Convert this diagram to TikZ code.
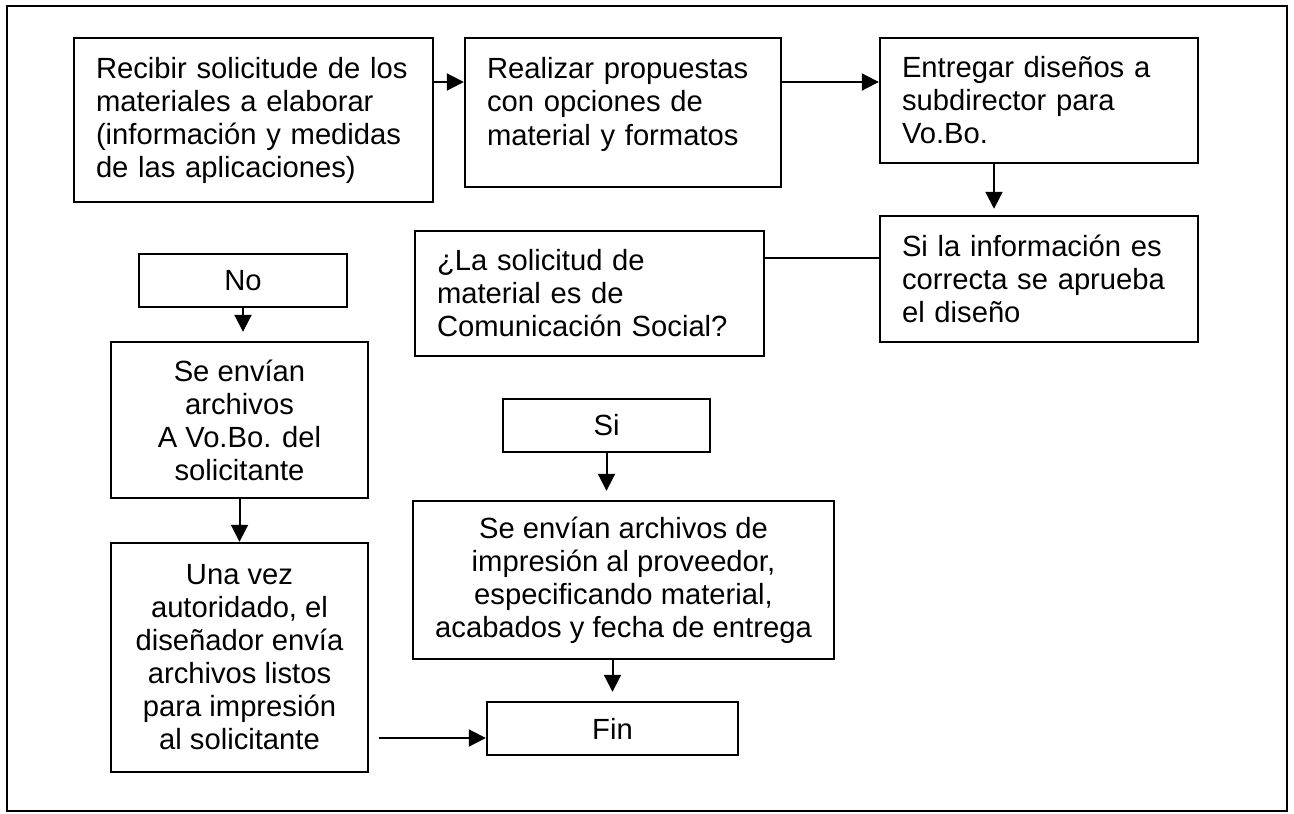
\documentclass[tikz,border=0pt]{standalone}
\usepackage{fontspec}
\setmainfont{Liberation Sans}
\usepackage{tikz}
\usetikzlibrary{arrows.meta}

\tikzset{
    caja/.style={draw, line width=1.2pt, align=left, inner xsep=11pt,
        font=\fontsize{14.6}{16.5}\selectfont},
    centrada/.style={caja, align=center, inner xsep=4pt},
    flecha/.style={line width=1pt, -{Triangle[length=8.5pt, width=8.5pt]}},
    linea/.style={line width=1pt},
}

\begin{document}
\begin{tikzpicture}[x=0.5pt, y=-0.5pt]
    \useasboundingbox (0,0) rectangle (1294,813);
    % marco
    \draw[line width=1pt] (7,6) rectangle (1287,811);

    % fila superior
    \node[caja, text width=157.5pt, minimum width=179.5pt, minimum height=82pt] (recibir) at (253.5,120)
        {Recibir solicitude de los\\materiales a elaborar\\(información y medidas\\de las aplicaciones)};
    \node[caja, text width=136pt, minimum width=158pt, inner ysep=0pt, text height=20.5pt, text depth=54pt] (propuestas) at (623,112.5)
        {Realizar propuestas\\con opciones de\\material y formatos};
    \node[caja, text width=137pt, minimum width=159pt, minimum height=62.5pt] (entregar) at (1039,100.5)
        {Entregar diseños a\\subdirector para\\Vo.Bo.};

    % aprobacion y pregunta
    \node[caja, text width=137pt, minimum width=159pt, minimum height=63pt] (aprueba) at (1039,279)
        {Si la información es\\correcta se aprueba\\el diseño};
    \node[caja, text width=152.5pt, minimum width=174.5pt, minimum height=62.5pt] (pregunta) at (589.5,293.5)
        {¿La solicitud de\\material es de\\Comunicación Social?};

    % rama No
    \node[centrada, minimum width=104pt, minimum height=26.5pt] (no) at (243,280.5) {No};
    \node[centrada, minimum width=128.5pt, minimum height=78pt] (vobo) at (239.5,420)
        {Se envían\\archivos\\A Vo.Bo. del\\solicitante};
    \node[centrada, minimum width=128.5pt, minimum height=114.5pt] (listos) at (239.5,657.5)
        {Una vez\\autoridado, el\\diseñador envía\\archivos listos\\para impresión\\al solicitante};

    % rama Si
    \node[centrada, minimum width=103.5pt, minimum height=26.5pt] (si) at (606.5,425.5) {Si};
    \node[centrada, minimum width=210.5pt, minimum height=79pt] (proveedor) at (623.5,580)
        {Se envían archivos de\\impresión al proveedor,\\especificando material,\\acabados y fecha de entrega};
    \node[centrada, minimum width=125.5pt, minimum height=26.5pt] (fin) at (612.5,728.5) {Fin};

    % conectores
    \coordinate (fila) at (0,82);
    \coordinate (bajada) at (994,0);
    \coordinate (enlace) at (0,258);
    \coordinate (cierre) at (0,738);
    \draw[flecha] (recibir.east |- fila) -- (propuestas.west |- fila);
    \draw[flecha] (propuestas.east |- fila) -- (entregar.west |- fila);
    \draw[flecha, shorten >=3pt] (entregar.south -| bajada) -- (aprueba.north -| bajada);
    \draw[linea] (pregunta.east |- enlace) -- (aprueba.west |- enlace);
    \draw[flecha, shorten >=4.5pt] (no.south) -- (no.south |- vobo.north);
    \draw[flecha] (vobo.south) -- (listos.north);
    \draw[flecha, shorten >=4.5pt] (si.south) -- (si.south |- proveedor.north);
    \draw[flecha, shorten >=4.5pt] (fin.north |- proveedor.south) -- (fin.north);
    \draw[flecha, shorten <=5pt] (listos.east |- cierre) -- (fin.west |- cierre);
\end{tikzpicture}
\end{document}
